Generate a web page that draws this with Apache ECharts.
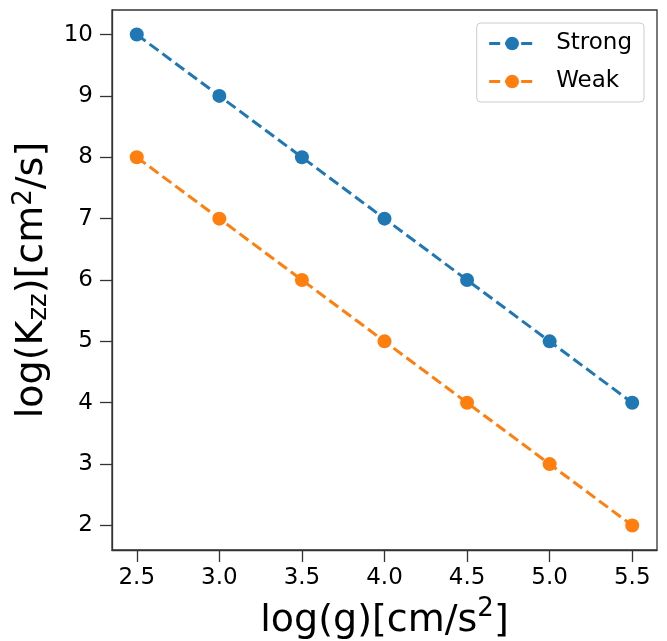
<!DOCTYPE html>
<html><head><meta charset="utf-8">
<script src="https://cdn.jsdelivr.net/npm/echarts@6/dist/echarts.min.js"></script>
<style>html,body{margin:0;padding:0;background:#fff}#c{width:667px;height:641px}</style>
</head><body><div id="c"></div>
<script>
const xValues = [2.5, 3.0, 3.5, 4.0, 4.5, 5.0, 5.5];
const strong = [10, 9, 8, 7, 6, 5, 4];
const weak = [8, 7, 6, 5, 4, 3, 2];
const xTicks = [2.5, 3.0, 3.5, 4.0, 4.5, 5.0, 5.5];
const yTicks = [2, 3, 4, 5, 6, 7, 8, 9, 10];
const seriesNames = ['Strong', 'Weak'];

const font = 'DejaVu Sans';
const chart = echarts.init(document.getElementById('c'));
const mk = (name, vals, color) => ({
  name, type: 'line', data: xValues.map((x, i) => [x, vals[i]]),
  symbol: 'circle', symbolSize: 14,
  itemStyle: { color },
  lineStyle: { color, width: 3, type: [11, 5] },
  z: 3
});
chart.setOption({
  animation: false,
  grid: { left: 112, right: 10, top: 10, bottom: 91, show: true, borderColor: '#333', borderWidth: 1.3,
          containLabel: false, outerBoundsMode: 'none' },
  legend: {
    right: 23, top: 23, orient: 'vertical', itemGap: 15,
    padding: [9, 12, 9, 11],
    borderColor: '#ccc', borderWidth: 1, borderRadius: 4,
    itemWidth: 46, itemHeight: 17,
    lineStyle: { width: 3 },
    textStyle: { fontFamily: font, fontSize: 23, color: '#000', padding: [0, 0, 0, 16] },
    data: seriesNames
  },
  xAxis: {
    type: 'value', min: 2.35, max: 5.65,
    axisLine: { show: true, lineStyle: { color: '#333', width: 1.3 } },
    axisTick: { show: true, length: 12, lineStyle: { color: '#333', width: 1.3 }, customValues: xTicks },
    axisLabel: { fontFamily: font, fontSize: 23, color: '#000', margin: 17, customValues: xTicks, formatter: v => v.toFixed(1) },
    splitLine: { show: false },
    name: '{a|log(g)[cm/s}{s|2}{a|]}', nameLocation: 'middle', nameGap: 46,
    nameTextStyle: { rich: {
      a: { fontFamily: font, fontSize: 38, color: '#000', verticalAlign: 'bottom', lineHeight: 44 },
      s: { fontFamily: font, fontSize: 26, color: '#000', verticalAlign: 'top', padding: [0, 0, 14, 0], lineHeight: 44 }
    } }
  },
  yAxis: {
    type: 'value', min: 1.6, max: 10.4,
    axisLine: { show: true, lineStyle: { color: '#333', width: 1.3 } },
    axisTick: { show: true, length: 12, lineStyle: { color: '#333', width: 1.3 }, customValues: yTicks },
    axisLabel: { fontFamily: font, fontSize: 23, color: '#000', margin: 19, customValues: yTicks },
    splitLine: { show: false },
    name: '{a|log(K}{b|zz}{a|)[cm}{s|2}{a|/s]}', nameLocation: 'middle', nameGap: 58, nameRotate: 90,
    nameTextStyle: { rich: {
      a: { fontFamily: font, fontSize: 38, color: '#000', lineHeight: 44 },
      b: { fontFamily: font, fontSize: 26, color: '#000', padding: [14, 0, 0, 0], lineHeight: 44 },
      s: { fontFamily: font, fontSize: 26, color: '#000', padding: [0, 0, 16, 0], lineHeight: 44 }
    } }
  },
  series: [mk(seriesNames[0], strong, '#1f77b4'), mk(seriesNames[1], weak, '#ff7f0e')]
});
</script></body></html>
